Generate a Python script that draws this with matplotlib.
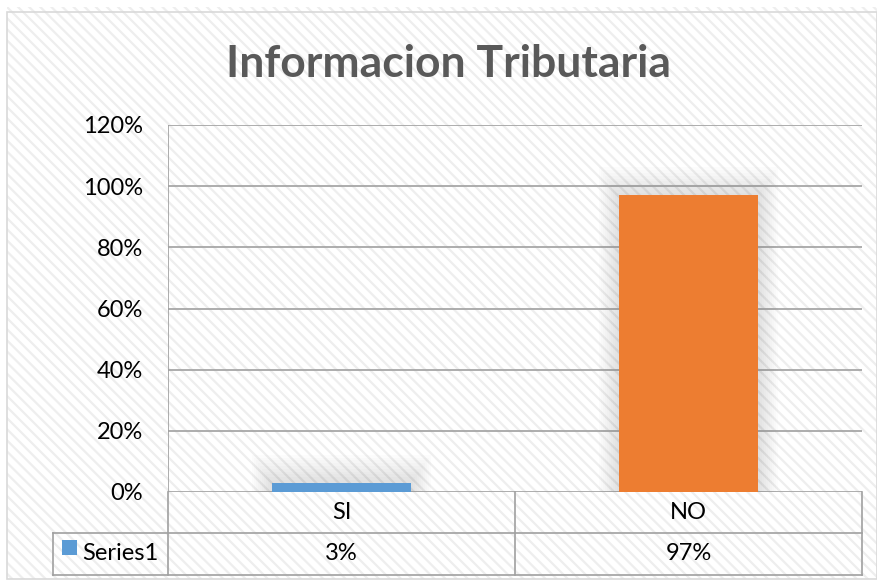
import matplotlib.pyplot as plt
from matplotlib.patches import Rectangle
from matplotlib.lines import Line2D
import matplotlib.transforms as mtransforms

categories = ['SI', 'NO']
values = [0.03, 0.97]
colors = ['#5B9BD5', '#ED7D31']
series_name = 'Series1'
title = 'Informacion Tributaria'
yticks = [0, 0.2, 0.4, 0.6, 0.8, 1.0, 1.2]

plt.rcParams['font.family'] = ['Lato', 'DejaVu Sans']
plt.rcParams['hatch.linewidth'] = 1.6
plt.rcParams['hatch.color'] = '#eeeeee'

W, H = 878, 580
fig = plt.figure(figsize=(W / 100, H / 100), dpi=100)

def fx(px):
    return px / W

def fy(py):
    return 1 - py / H

# chart area background with diagonal stripes
bg = Rectangle((fx(7), fy(579)), fx(870), (572) / H, transform=fig.transFigure,
               facecolor='white', hatch='\\\\\\', edgecolor='#eeeeee', linewidth=0, zorder=-3)
fig.patches.append(bg)
border = Rectangle((fx(7), fy(579)), fx(870), (567) / H, transform=fig.transFigure,
                   facecolor='none', edgecolor='#d9d9d9', linewidth=1.2, zorder=-2)
fig.patches.append(border)

left, right, top, bottom = 168, 862, 125, 492
ax = fig.add_axes([fx(left), fy(bottom), (right - left) / W, (bottom - top) / H])
ax.set_facecolor('none')
ax.set_xlim(-0.5, len(categories) - 0.5)
ax.set_ylim(0, 1.2)

grid_c = '#a0a0a0'
for t in yticks:
    ax.axhline(t, color=grid_c, linewidth=1.2, zorder=1)
ax.axvline(-0.5, color=grid_c, linewidth=1.2, zorder=1)

# soft glow behind bars
xs = list(range(len(categories)))
bw = 0.4
upx = 1.0 / (right - left) * len(categories)  # data units per px in x
upy = 1.2 / (bottom - top)
for x, v in zip(xs, values):
    for pad in range(20, 0, -2):
        ax.add_patch(Rectangle((x - bw / 2 - pad * upx, 0), bw + 2 * pad * upx,
                               v + pad * upy * 1.4, facecolor='#808080', alpha=0.022,
                               linewidth=0, zorder=2))
ax.bar(xs, values, width=bw, color=colors, zorder=3)

fs = 17
ax.set_yticks(yticks)
ax.set_yticklabels([f'{int(round(t * 100))}%' for t in yticks])
ax.set_xticks([])
ax.tick_params(axis='y', length=0, pad=18, labelsize=fs, labelcolor='#000000')
for s in ax.spines.values():
    s.set_visible(False)

# data table below the plot
trans = mtransforms.blended_transform_factory(ax.transData, ax.transAxes)
h_ax = bottom - top
r1 = -(533 - bottom) / h_ax
r2 = -(575 - bottom) / h_ax
leg_x = (53 - left) / (right - left) * len(categories) - 0.5
lw = 1.2
def hline(y, x0, x1):
    ax.add_line(Line2D([x0, x1], [y, y], transform=trans, color=grid_c, linewidth=lw, clip_on=False))
def vline(x, y0, y1):
    ax.add_line(Line2D([x, x], [y0, y1], transform=trans, color=grid_c, linewidth=lw, clip_on=False))

hline(r1, leg_x, len(categories) - 0.5)
hline(r2, leg_x, len(categories) - 0.5)
vline(leg_x, r1, r2)
for i in range(len(categories) + 1):
    vline(i - 0.5, 0, r2)

for x, cat, v in zip(xs, categories, values):
    ax.text(x, r1 / 2, cat, transform=trans, ha='center', va='center', fontsize=fs)
    ax.text(x, (r1 + r2) / 2, f'{int(round(v * 100))}%', transform=trans,
            ha='center', va='center', fontsize=fs)

sq = 15
fig.patches.append(Rectangle((fx(62), fy(555)), sq / W, sq / H, transform=fig.transFigure,
                             facecolor=colors[0], linewidth=0, zorder=5))
fig.text(fx(82), fy(554), series_name, ha='left', va='center', fontsize=fs)

fig.text(fx(449), fy(64), title, ha='center', va='center', fontsize=32,
         fontweight='bold', color='#595959')

fig.savefig('out.png', dpi=100)
